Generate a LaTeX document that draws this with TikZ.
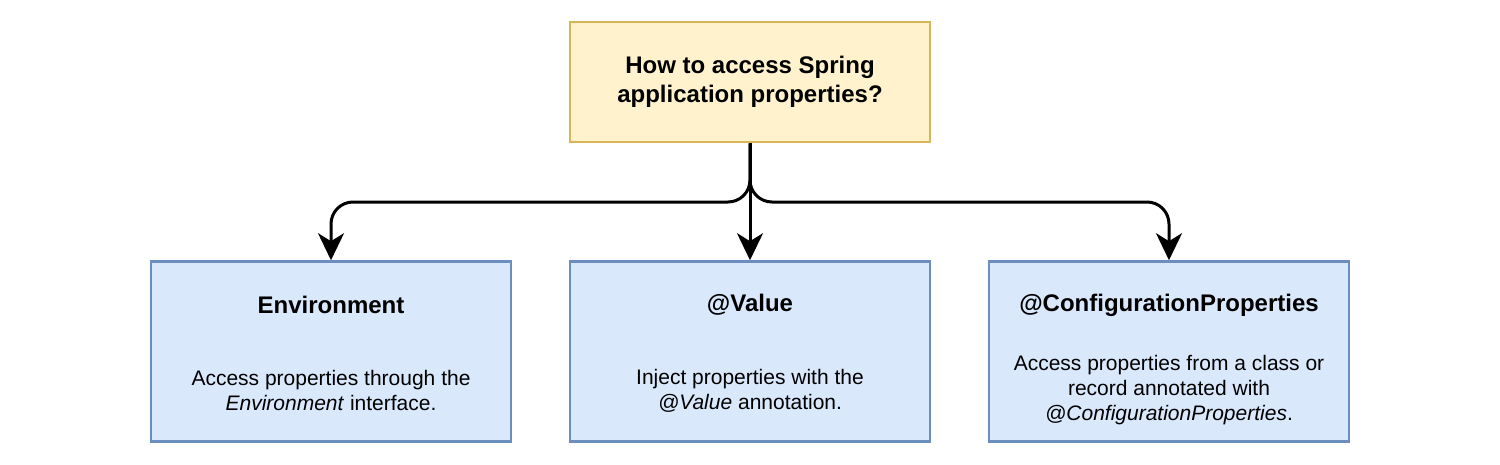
\documentclass[tikz,border=0pt]{standalone}
\usepackage{fontspec}
\setmainfont{Liberation Sans}
\usetikzlibrary{arrows.meta}
\definecolor{yfill}{HTML}{FFF2CC}
\definecolor{ydraw}{HTML}{D6B656}
\definecolor{bfill}{HTML}{DAE8FC}
\definecolor{bdraw}{HTML}{6C8EBF}
\tikzset{
  qbox/.style={draw=ydraw, fill=yfill, line width=2.6pt, minimum width=360pt, minimum height=120pt, inner sep=0pt},
  optbox/.style={draw=bdraw, fill=bfill, line width=2.6pt, minimum width=360pt, minimum height=180pt, inner sep=0pt},
  qtext/.style={align=center, inner sep=0pt, font=\fontsize{24}{29}\selectfont\bfseries},
  headtext/.style={align=center, inner sep=0pt, font=\fontsize{24}{29}\selectfont\bfseries},
  bodytext/.style={align=center, inner sep=0pt, font=\fontsize{21}{25}\selectfont},
  conn/.style={line width=3pt, -{Stealth[length=27pt,width=26pt,inset=8pt]}}
}
\begin{document}
\begin{tikzpicture}[x=1pt,y=-1pt]
\useasboundingbox (0,0) rectangle (1500,464);
\node[qbox] (q) at (750,82) {};
\node[qtext] (qt) at (750,82) {How to access Spring\\application properties?};

\node[optbox] (l) at (331,351.5) {};
\node[optbox] (m) at (750,351.5) {};
\node[optbox] (r) at (1169,351.5) {};

\node[headtext] (lh) at (331,305) {Environment};
\node[headtext] (mh) at (750,305) {@Value};
\node[headtext] (rh) at (1169,305) {@ConfigurationProperties};

\node[bodytext] (lb) at (331,390.5) {Access properties through the\\\textit{Environment} interface.};
\node[bodytext] (mb) at (750,390.5) {Inject properties with the\\\textit{@Value} annotation.};
\node[bodytext] (rb) at (1169,390) {Access properties from a class or\\record annotated with\\\textit{@ConfigurationProperties}.};

\coordinate (hl) at (0,202);
\draw[conn] (q.south) -- (m.north);
\draw[conn, rounded corners=22pt] (q.south) -- (q.south |- hl) -- (l.north |- hl) -- (l.north);
\draw[conn, rounded corners=22pt] (q.south) -- (q.south |- hl) -- (r.north |- hl) -- (r.north);
\end{tikzpicture}
\end{document}
